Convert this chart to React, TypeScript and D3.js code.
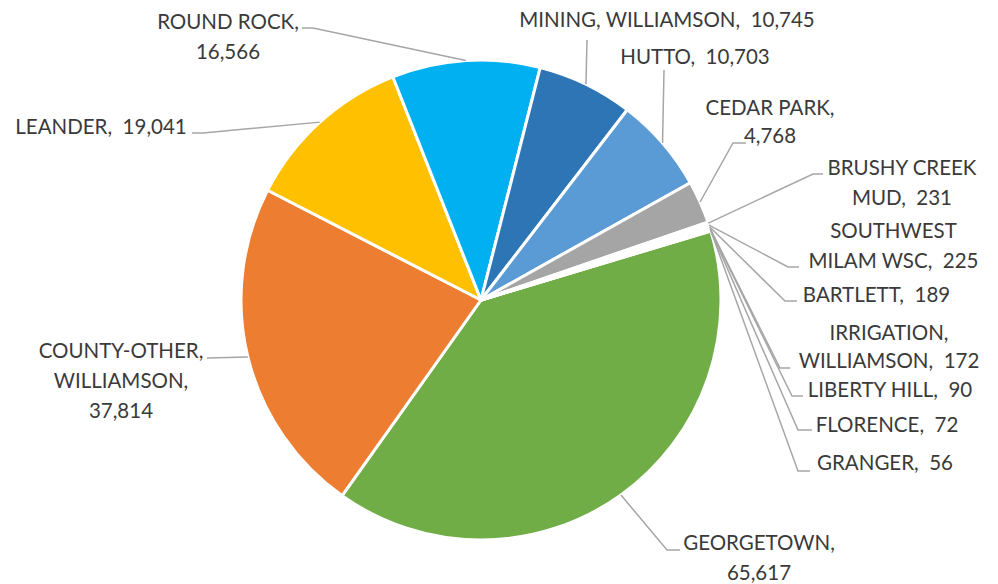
import React, { useLayoutEffect } from "react";
import * as d3 from "d3";

const categories = [
  "GEORGETOWN",
  "COUNTY-OTHER, WILLIAMSON",
  "LEANDER",
  "ROUND ROCK",
  "MINING, WILLIAMSON",
  "HUTTO",
  "CEDAR PARK",
  "BRUSHY CREEK MUD",
  "SOUTHWEST MILAM WSC",
  "BARTLETT",
  "IRRIGATION, WILLIAMSON",
  "LIBERTY HILL",
  "FLORENCE",
  "GRANGER",
];
const values = [65617, 37814, 19041, 16566, 10745, 10703, 4768, 231, 225, 189, 172, 90, 72, 56];
const colors = [
  "#70AD47", "#ED7D31", "#FFC000", "#00B0F0", "#2E75B6", "#5B9BD5", "#A5A5A5",
  "#264478", "#9E480E", "#636363", "#997300", "#255E91", "#43682B", "#698ED0",
];

// label layout: center x, first-line cap-center y, line height, token split per line, leader attach points
const labelLayout = [
  { cx: 759, cy: 543, lh: 30, split: [1, 1], leader: [[680, 550], [667, 550]] },
  { cx: 121, cy: 351, lh: 30, split: [1, 1, 1], leader: [[207, 358]] },
  { cx: 101, cy: 126.5, lh: 30, split: [2], leader: [[192, 133], [203, 133]] },
  { cx: 228, cy: 21.5, lh: 30.5, split: [2, 1], leader: [[302, 28], [313, 28]] },
  { cx: 667, cy: 19.5, lh: 30, split: [3], leader: [[587, 40]] },
  { cx: 695, cy: 56.5, lh: 30, split: [2], leader: [[664, 70]] },
  { cx: 770, cy: 107.5, lh: 28.5, split: [2, 1], leader: [[746, 143], [733, 143]] },
  { cx: 902, cy: 167.5, lh: 30, split: [2, 2], leader: [[823, 174], [813, 174]] },
  { cx: 893.5, cy: 230.5, lh: 30, split: [1, 3], leader: [[799, 267], [788, 267]] },
  { cx: 876.5, cy: 294.5, lh: 30, split: [2], leader: [[797, 301], [785, 301]] },
  { cx: 889, cy: 332.5, lh: 28.5, split: [1, 2], leader: [[790, 368], [780, 368]] },
  { cx: 890, cy: 389.5, lh: 30, split: [3], leader: [[803, 396], [792, 396]] },
  { cx: 887, cy: 424.5, lh: 30, split: [2], leader: [[812, 430], [798, 430]] },
  { cx: 885, cy: 462.5, lh: 30, split: [2], leader: [[810, 471], [798, 471]] },
];

const W = 998;
const H = 584;
const CX = 481;
const CY = 300;
const R = 240;
const START = (73.3 * Math.PI) / 180;

const fmt = d3.format(",");

function labelLines(name: string, value: number, split: number[]): string[] {
  const words = name.split(" ");
  const tokens: { t: string; v: boolean }[] = words.map((w, i) => ({
    t: i === words.length - 1 && !w.endsWith(",") ? w + "," : w,
    v: false,
  }));
  tokens.push({ t: fmt(value), v: true });
  const lines: string[] = [];
  let k = 0;
  for (const n of split) {
    const part = tokens.slice(k, k + n);
    k += n;
    let s = "";
    part.forEach((p, i) => {
      if (i > 0) s += p.v ? "  " : " ";
      s += p.t;
    });
    lines.push(s);
  }
  return lines;
}

export default function App() {
  useLayoutEffect(() => {
    document.body.style.margin = "0";
  }, []);

  const pie = d3
    .pie<number>()
    .sort(null)
    .value((d) => d)
    .startAngle(START)
    .endAngle(START + 2 * Math.PI);
  const arcs = pie(values);
  const arcGen = d3.arc<d3.PieArcDatum<number>>().innerRadius(0).outerRadius(R);
  const edgeGen = d3.arc<d3.PieArcDatum<number>>().innerRadius(R).outerRadius(R);
  const line = d3.line();

  return (
    <svg width={W} height={H} style={{ display: "block" }} fontFamily="Lato, Carlito, sans-serif">
      <rect width={W} height={H} fill="#ffffff" />
      <g transform={`translate(${CX},${CY})`}>
        {arcs.map((a, i) => (
          <path key={i} d={arcGen(a) || ""} fill={colors[i]} stroke="#ffffff" strokeWidth={3} strokeLinejoin="round" />
        ))}
      </g>
      {arcs.map((a, i) => {
        const [ex, ey] = edgeGen.centroid(a);
        const pts = [...labelLayout[i].leader, [ex + CX, ey + CY]] as [number, number][];
        return <path key={"l" + i} d={line(pts) || ""} fill="none" stroke="#A6A6A6" strokeWidth={1.5} />;
      })}
      {arcs.map((a, i) => {
        const L = labelLayout[i];
        const lines = labelLines(categories[i], values[i], L.split);
        return (
          <text key={"t" + i} textAnchor="middle" fontSize={20.5} fill="#3A3A3A" style={{ whiteSpace: "pre" }}>
            {lines.map((s, j) => (
              <tspan key={j} x={L.cx} y={L.cy + j * L.lh + 7.3}>
                {s}
              </tspan>
            ))}
          </text>
        );
      })}
    </svg>
  );
}
